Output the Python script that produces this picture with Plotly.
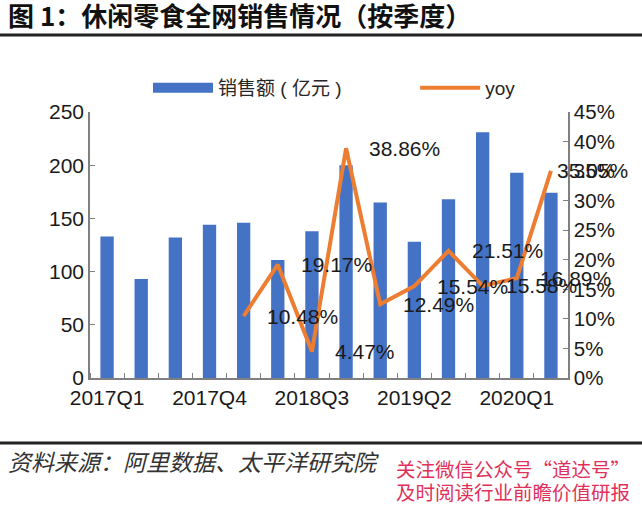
import plotly.graph_objects as go

quarters = ['2017Q1', '2017Q2', '2017Q3', '2017Q4', '2018Q1', '2018Q2', '2018Q3',
            '2018Q4', '2019Q1', '2019Q2', '2019Q3', '2019Q4', '2020Q1', '2020Q2']
sales = [133, 93, 132, 144, 146, 111, 138, 200, 165, 128, 168, 231, 193, 174]
yoy = [None, None, None, None, 10.48, 19.17, 4.47, 38.86, 12.49, 15.54, 21.51,
       15.58, 16.89, 35.05]

W, H = 642, 513
L, R, T, B = 90, 74, 112, 135
pw, ph = W - L - R, H - T - B


def px(x):
    return (x - L) / pw


def py(y):
    return (H - B - y) / ph


font = 'Liberation Sans, Arial, Noto Sans CJK SC'
cjk = 'Noto Sans CJK SC'
idx = list(range(len(quarters)))
blue, orange = '#4472C4', '#ED7D31'

fig = go.Figure()
fig.add_trace(go.Bar(x=idx, y=sales, name='销售额 ( 亿元 )', showlegend=False,
                     marker_color=blue, marker_line_width=0))
# legend key for the bars drawn as a thick line, like the excel swatch
fig.add_trace(go.Scatter(x=[None], y=[None], mode='lines', name='销售额 ( 亿元 )' + '\u00a0' * 13,
                         line=dict(color=blue, width=10)))
fig.add_trace(go.Scatter(x=idx, y=yoy, name='yoy', yaxis='y2', mode='lines',
                         line=dict(color=orange, width=4)))

# data labels on the yoy line (last one pulled in to stay inside the chart)
for i, v in zip(idx, yoy):
    if v is None:
        continue
    fig.add_annotation(x=i, y=v, xref='x', yref='y2', text='%.2f%%' % v,
                       showarrow=False, xanchor='left',
                       xshift=21 if i < idx[-1] else 4,
                       font=dict(size=21, color='#1a1a1a', family=font))

fig.update_layout(
    width=W, height=H,
    margin=dict(l=L, r=R, t=T, b=B),
    plot_bgcolor='white', paper_bgcolor='white',
    font=dict(family=font, size=21, color='#1a1a1a'),
    bargap=0.61,
    showlegend=True,
    legend=dict(orientation='h', x=px(148), y=py(88), xanchor='left', yanchor='middle',
                font=dict(size=19, family=font + ', ' + cjk, color='#262626'),
                itemwidth=60, bgcolor='rgba(0,0,0,0)'),
    title=dict(text='<b>图 1：休闲零食全网销售情况（按季度）</b>', x=8 / W, xanchor='left',
               y=1 - 17 / H, yanchor='middle',
               font=dict(size=26, family=cjk, color='#111')),
    xaxis=dict(range=[-0.5, len(quarters) - 0.5], tickmode='array',
               tickvals=idx[::3], ticktext=quarters[::3], ticks='',
               showline=True, linecolor='#808080', linewidth=1.5,
               showgrid=False, zeroline=False,
               tickfont=dict(size=21),
               minor=dict(ticks='inside', tick0=-0.5, dtick=1, ticklen=5,
                          tickcolor='#808080', showgrid=False)),
    yaxis=dict(range=[0, 250], dtick=50, ticks='inside', ticklen=5,
               tickcolor='#808080', showline=True, linecolor='#808080',
               linewidth=1.5, showgrid=False, zeroline=False,
               tickfont=dict(size=21)),
    yaxis2=dict(range=[0, 45], dtick=5, ticksuffix='%', overlaying='y', side='right',
                ticks='inside', ticklen=5, tickcolor='#808080', showline=True,
                linecolor='#808080', linewidth=1.5, showgrid=False, zeroline=False,
                tickfont=dict(size=20.5)),
)

# rules under the title and above the source line
for yy in (35, 443):
    fig.add_shape(type='line', xref='paper', yref='paper', x0=px(0), x1=px(W),
                  y0=py(yy), y1=py(yy), line=dict(color='#222', width=3))

fig.add_annotation(text='<i>资料来源：阿里数据、太平洋研究院</i>', xref='paper', yref='paper',
                   x=px(6), y=py(461), xanchor='left', yanchor='middle', showarrow=False,
                   font=dict(size=23, family=cjk, color='#333'))
fig.add_annotation(text='关注微信公众号“道达号”', xref='paper', yref='paper',
                   x=px(394), y=py(468), xanchor='left', yanchor='middle', showarrow=False,
                   font=dict(size=19.5, family=cjk, color='#e0305a'))
fig.add_annotation(text='及时阅读行业前瞻价值研报', xref='paper', yref='paper',
                   x=px(394), y=py(491), xanchor='left', yanchor='middle', showarrow=False,
                   font=dict(size=19.5, family=cjk, color='#e0305a'))

# drop the default 8px page margin so the figure sits at the window corner
fig.write_html('out.html', config={'displayModeBar': False},
               post_script="document.body.style.margin='0';")
